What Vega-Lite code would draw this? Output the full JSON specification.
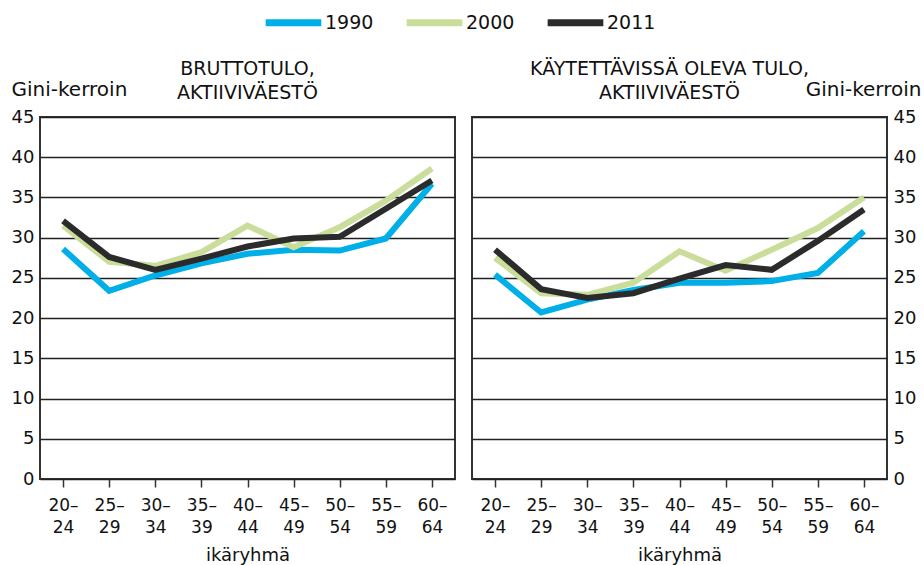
{
  "$schema": "https://vega.github.io/schema/vega-lite/v6.json",
  "padding": {"left": 10, "top": -9, "right": 3, "bottom": 0},
  "background": "white",
  "data": {"values": [
    {"panel": "brutto", "age": "20–24", "year": "1990", "gini": 28.6},
    {"panel": "brutto", "age": "25–29", "year": "1990", "gini": 23.4},
    {"panel": "brutto", "age": "30–34", "year": "1990", "gini": 25.3},
    {"panel": "brutto", "age": "35–39", "year": "1990", "gini": 26.8},
    {"panel": "brutto", "age": "40–44", "year": "1990", "gini": 28.0},
    {"panel": "brutto", "age": "45–49", "year": "1990", "gini": 28.5},
    {"panel": "brutto", "age": "50–54", "year": "1990", "gini": 28.4},
    {"panel": "brutto", "age": "55–59", "year": "1990", "gini": 29.9},
    {"panel": "brutto", "age": "60–64", "year": "1990", "gini": 36.7},
    {"panel": "brutto", "age": "20–24", "year": "2000", "gini": 31.5},
    {"panel": "brutto", "age": "25–29", "year": "2000", "gini": 27.0},
    {"panel": "brutto", "age": "30–34", "year": "2000", "gini": 26.5},
    {"panel": "brutto", "age": "35–39", "year": "2000", "gini": 28.2},
    {"panel": "brutto", "age": "40–44", "year": "2000", "gini": 31.5},
    {"panel": "brutto", "age": "45–49", "year": "2000", "gini": 28.8},
    {"panel": "brutto", "age": "50–54", "year": "2000", "gini": 31.3},
    {"panel": "brutto", "age": "55–59", "year": "2000", "gini": 34.6},
    {"panel": "brutto", "age": "60–64", "year": "2000", "gini": 38.6},
    {"panel": "brutto", "age": "20–24", "year": "2011", "gini": 32.1},
    {"panel": "brutto", "age": "25–29", "year": "2011", "gini": 27.6},
    {"panel": "brutto", "age": "30–34", "year": "2011", "gini": 26.0},
    {"panel": "brutto", "age": "35–39", "year": "2011", "gini": 27.4},
    {"panel": "brutto", "age": "40–44", "year": "2011", "gini": 28.9},
    {"panel": "brutto", "age": "45–49", "year": "2011", "gini": 29.9},
    {"panel": "brutto", "age": "50–54", "year": "2011", "gini": 30.1},
    {"panel": "brutto", "age": "55–59", "year": "2011", "gini": 33.6},
    {"panel": "brutto", "age": "60–64", "year": "2011", "gini": 37.1},
    {"panel": "kaytettava", "age": "20–24", "year": "1990", "gini": 25.4},
    {"panel": "kaytettava", "age": "25–29", "year": "1990", "gini": 20.7},
    {"panel": "kaytettava", "age": "30–34", "year": "1990", "gini": 22.3},
    {"panel": "kaytettava", "age": "35–39", "year": "1990", "gini": 23.5},
    {"panel": "kaytettava", "age": "40–44", "year": "1990", "gini": 24.4},
    {"panel": "kaytettava", "age": "45–49", "year": "1990", "gini": 24.4},
    {"panel": "kaytettava", "age": "50–54", "year": "1990", "gini": 24.6},
    {"panel": "kaytettava", "age": "55–59", "year": "1990", "gini": 25.6},
    {"panel": "kaytettava", "age": "60–64", "year": "1990", "gini": 30.8},
    {"panel": "kaytettava", "age": "20–24", "year": "2000", "gini": 27.5},
    {"panel": "kaytettava", "age": "25–29", "year": "2000", "gini": 23.1},
    {"panel": "kaytettava", "age": "30–34", "year": "2000", "gini": 22.9},
    {"panel": "kaytettava", "age": "35–39", "year": "2000", "gini": 24.4},
    {"panel": "kaytettava", "age": "40–44", "year": "2000", "gini": 28.3},
    {"panel": "kaytettava", "age": "45–49", "year": "2000", "gini": 25.9},
    {"panel": "kaytettava", "age": "50–54", "year": "2000", "gini": 28.5},
    {"panel": "kaytettava", "age": "55–59", "year": "2000", "gini": 31.2},
    {"panel": "kaytettava", "age": "60–64", "year": "2000", "gini": 35.0},
    {"panel": "kaytettava", "age": "20–24", "year": "2011", "gini": 28.5},
    {"panel": "kaytettava", "age": "25–29", "year": "2011", "gini": 23.6},
    {"panel": "kaytettava", "age": "30–34", "year": "2011", "gini": 22.5},
    {"panel": "kaytettava", "age": "35–39", "year": "2011", "gini": 23.1},
    {"panel": "kaytettava", "age": "40–44", "year": "2011", "gini": 24.9},
    {"panel": "kaytettava", "age": "45–49", "year": "2011", "gini": 26.6},
    {"panel": "kaytettava", "age": "50–54", "year": "2011", "gini": 26.0},
    {"panel": "kaytettava", "age": "55–59", "year": "2011", "gini": 29.6},
    {"panel": "kaytettava", "age": "60–64", "year": "2011", "gini": 33.5}
  ]},
  "config": {
    "font": "DejaVu Sans",
    "view": {"stroke": "#333", "strokeWidth": 2},
    "concat": {"spacing": 15},
    "axis": {"labelColor": "#111", "titleColor": "#111", "titleFontWeight": "normal", "labelFont": "DejaVu Sans", "titleFont": "DejaVu Sans"},
    "axisY": {"grid": true, "gridColor": "#222", "gridWidth": 1.3, "ticks": false, "domain": false, "labelFontSize": 18, "labelPadding": 6, "values": [0, 5, 10, 15, 20, 25, 30, 35, 40, 45], "titleAngle": 0, "titleFontSize": 20, "titleBaseline": "alphabetic"},
    "axisX": {"grid": false, "domain": false, "ticks": true, "tickSize": 8, "tickColor": "#333", "tickWidth": 1.5, "labelAngle": 0, "labelFontSize": 17, "labelLineHeight": 22, "labelPadding": 10, "labelAlign": "center", "labelBaseline": "top", "labelExpr": "[slice(datum.value, 0, 3), slice(datum.value, 3)]", "titleFontSize": 18, "titlePadding": 11},
    "title": {"fontSize": 19, "fontWeight": "normal", "lineHeight": 24, "offset": -24, "color": "#111", "font": "DejaVu Sans"},
    "legend": {"labelFontSize": 19, "labelColor": "#111", "labelFont": "DejaVu Sans"}
  },
  "resolve": {"scale": {"color": "shared"}},
  "hconcat": [
    {
      "width": 415,
      "height": 362,
      "title": {"text": ["BRUTTOTULO,", "AKTIIVIVÄESTÖ"]},
      "transform": [{"filter": "datum.panel === 'brutto'"}],
      "mark": {"type": "line", "strokeWidth": 6},
      "encoding": {
        "x": {"field": "age", "type": "ordinal", "sort": null, "scale": {"type": "point", "padding": 0.5}, "axis": {"title": "ikäryhmä"}},
        "y": {"field": "gini", "type": "quantitative", "scale": {"domain": [0, 45], "nice": false}, "axis": {"orient": "left", "title": "Gini-kerroin", "titleAlign": "left", "titleX": -29, "titleY": -22}},
        "color": {"field": "year", "type": "nominal", "scale": {"domain": ["1990", "2000", "2011"], "range": ["#00aee8", "#cadd9a", "#2b2b2b"]}, "legend": {"title": null, "orient": "none", "direction": "horizontal", "legendX": 222, "legendY": -126, "symbolType": "stroke", "symbolSize": 3100, "symbolStrokeWidth": 7, "columnPadding": 18, "labelOffset": 0}}
      }
    },
    {
      "width": 415,
      "height": 362,
      "title": {"text": ["KÄYTETTÄVISSÄ OLEVA TULO,", "AKTIIVIVÄESTÖ"], "dx": -10},
      "transform": [{"filter": "datum.panel === 'kaytettava'"}],
      "mark": {"type": "line", "strokeWidth": 6},
      "encoding": {
        "x": {"field": "age", "type": "ordinal", "sort": null, "scale": {"type": "point", "padding": 0.5}, "axis": {"title": "ikäryhmä"}},
        "y": {"field": "gini", "type": "quantitative", "scale": {"domain": [0, 45], "nice": false}, "axis": {"orient": "right", "title": "Gini-kerroin", "titleAlign": "right", "titleX": 34, "titleY": -22}},
        "color": {"field": "year", "type": "nominal"}
      }
    }
  ]
}
